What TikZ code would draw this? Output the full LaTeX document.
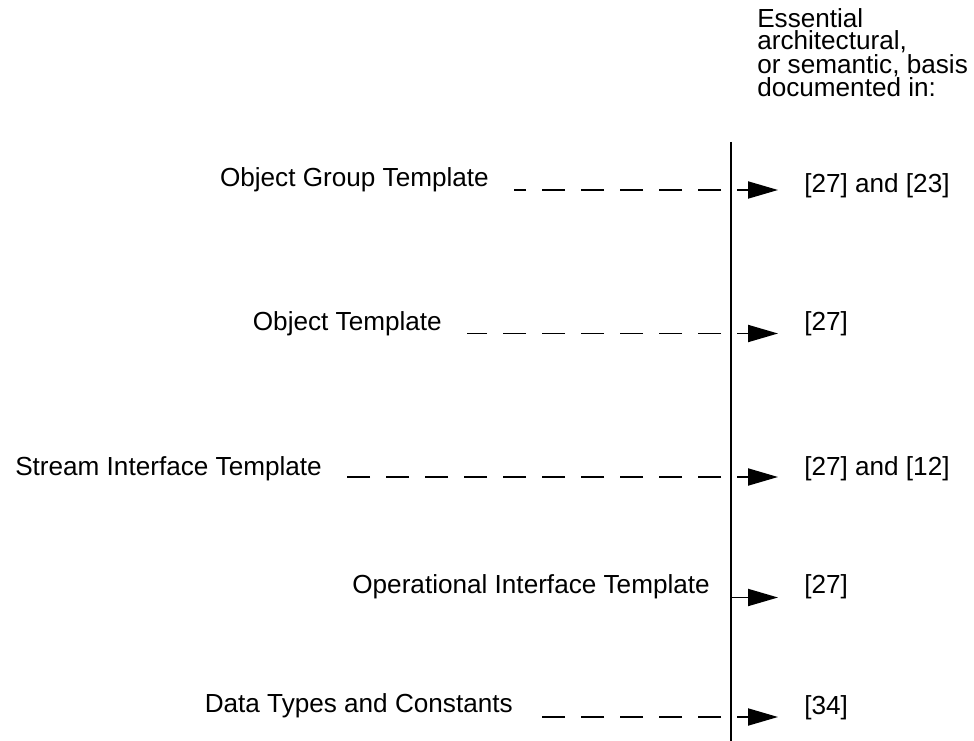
\documentclass[tikz,border=0pt]{standalone}
\usepackage{fontspec}
\setmainfont{Liberation Sans}
\usetikzlibrary{arrows.meta}
\begin{document}
\begin{tikzpicture}[x=0.75pt,y=-0.75pt,
  txt/.style={inner sep=0pt,font=\fontsize{19.6pt}{16.4pt}\selectfont},
  lbl/.style={txt,anchor=base east},
  ref/.style={txt,anchor=base west},
  dashline/.style={line width=1.4pt,dash pattern=on 17.25pt off 12pt,shorten >=18.75pt},
  arr/.style={line width=1.4pt,-{Triangle[length=22.5pt,width=12.75pt]},shorten >=19.5pt},
  axisline/.style={line width=1.4pt}]
\useasboundingbox (0,0) rectangle (974,741);

% header (base anchor = last line)
\node[txt,anchor=base west,align=left] (head) at (757,96.7)
  {Essential\\architectural,\\or semantic, basis\\documented in:};

% vertical axis
\coordinate (vtop) at (731,142);
\coordinate (vbot) at (731,741);
\draw[axisline] (vtop) -- (vbot);

% labels
\node[lbl] (l1) at (489,187) {Object Group Template};
\node[lbl] (l2) at (442,331) {Object Template};
\node[lbl] (l3) at (322,475) {Stream Interface Template};
\node[lbl] (l4) at (710,593.3) {Operational Interface Template};
\node[lbl] (l5) at (513,712.7) {Data Types and Constants};

% references
\node[ref] (r1) at (804,192.3) {[27] and [23]};
\node[ref] (r2) at (804,330.7) {[27]};
\node[ref] (r3) at (804,475) {[27] and [12]};
\node[ref] (r4) at (804,593.3) {[27]};
\node[ref] (r5) at (804,714) {[34]};

% dashed line ends
\coordinate (d1) at (721,190);
\coordinate (d2) at (721,333.5);
\coordinate (d3) at (721,477);
\coordinate (d5) at (721,717);
\draw[dashline] (d1) -- (l1.base east |- d1);
\draw[dashline] (d2) -- (l2.base east |- d2);
\draw[dashline] (d3) -- (l3.base east |- d3);
\draw[dashline] (d5) -- (l5.base east |- d5);

% arrows
\coordinate (a1) at (737,190);
\coordinate (a2) at (737,333.5);
\coordinate (a3) at (737,477);
\coordinate (a4) at (731,597.5);
\coordinate (a5) at (737,717);
\draw[arr] (a1) -- (r1.west |- a1);
\draw[arr] (a2) -- (r2.west |- a2);
\draw[arr] (a3) -- (r3.west |- a3);
\draw[arr] (a4) -- (r4.west |- a4);
\draw[arr] (a5) -- (r5.west |- a5);
\end{tikzpicture}
\end{document}
